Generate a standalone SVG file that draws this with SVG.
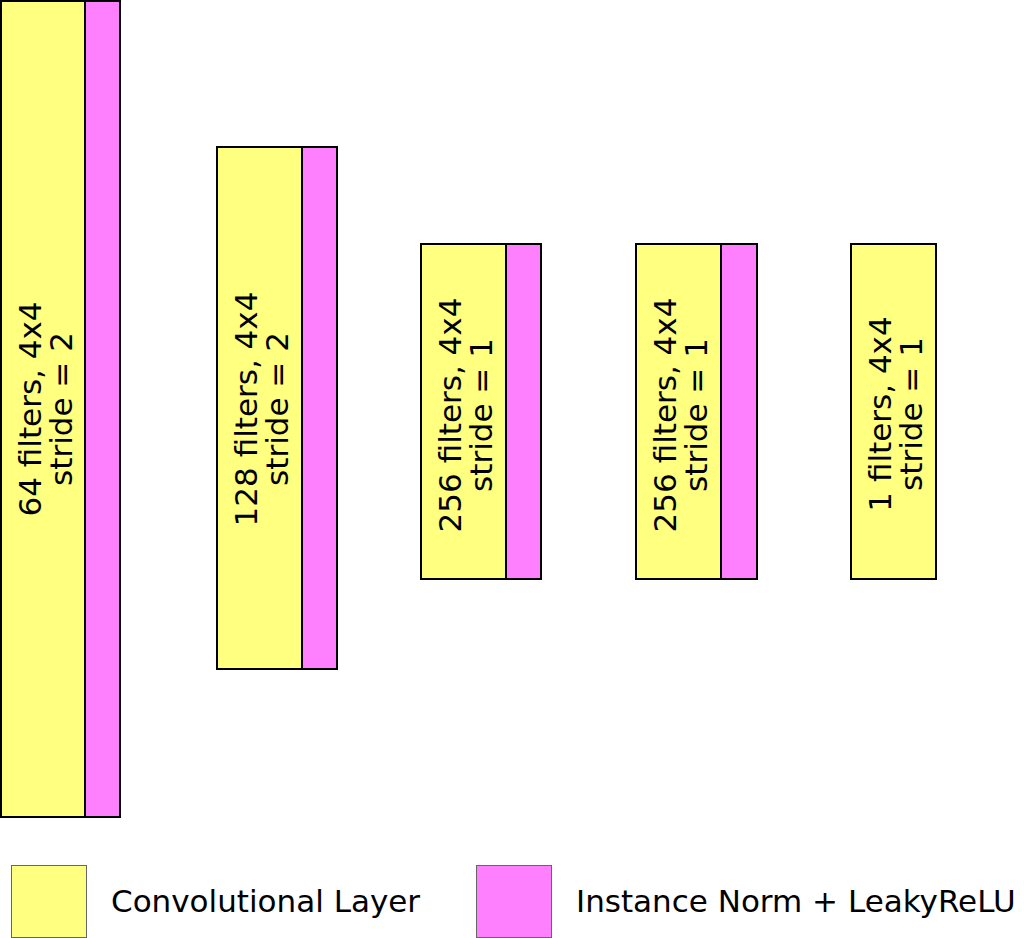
<svg xmlns="http://www.w3.org/2000/svg" width="1024" height="938" viewBox="0 0 1024 938">
<style>
.conv{fill:#ffff80;stroke:#000;stroke-width:2}
.norm{fill:#ff80ff;stroke:#000;stroke-width:2}
.lconv{fill:#ffff80;stroke:#666;stroke-width:1}
.lnorm{fill:#ff80ff;stroke:#666;stroke-width:1}
text{font-family:"DejaVu Sans",Verdana,sans-serif;font-size:31px;fill:#000}
.lbl{text-anchor:middle}
</style>
<rect width="1024" height="938" fill="#fff"/>
<g id="layer1">
<rect class="conv" x="1" y="1" width="84" height="816"/>
<rect class="norm" x="85" y="1" width="35" height="816"/>
<g transform="translate(43,409) rotate(-90)"><text class="lbl" x="0" y="-2">64 filters, 4x4</text><text class="lbl" x="0" y="29">stride = 2</text></g>
</g>
<g id="layer2">
<rect class="conv" x="217" y="147" width="85" height="522"/>
<rect class="norm" x="302" y="147" width="35" height="522"/>
<g transform="translate(259,409) rotate(-90)"><text class="lbl" x="0" y="-2">128 filters, 4x4</text><text class="lbl" x="0" y="29">stride = 2</text></g>
</g>
<g id="layer3">
<rect class="conv" x="421" y="244" width="85" height="335"/>
<rect class="norm" x="506" y="244" width="35" height="335"/>
<g transform="translate(463,415) rotate(-90)"><text class="lbl" x="0" y="-2">256 filters, 4x4</text><text class="lbl" x="0" y="29">stride = 1</text></g>
</g>
<g id="layer4">
<rect class="conv" x="636" y="244" width="85" height="335"/>
<rect class="norm" x="721" y="244" width="36" height="335"/>
<g transform="translate(678,415) rotate(-90)"><text class="lbl" x="0" y="-2">256 filters, 4x4</text><text class="lbl" x="0" y="29">stride = 1</text></g>
</g>
<g id="layer5">
<rect class="conv" x="851" y="244" width="85" height="335"/>
<g transform="translate(893,414) rotate(-90)"><text class="lbl" x="0" y="-2">1 filters, 4x4</text><text class="lbl" x="0" y="29">stride = 1</text></g>
</g>
<g id="legend-conv">
<rect class="lconv" x="11.5" y="865.5" width="75" height="72"/>
<text x="111" y="912">Convolutional Layer</text>
</g>
<g id="legend-norm">
<rect class="lnorm" x="476.5" y="865.5" width="75" height="72"/>
<text x="576" y="912">Instance Norm + LeakyReLU</text>
</g>
<g id="connectors"></g>
</svg>
